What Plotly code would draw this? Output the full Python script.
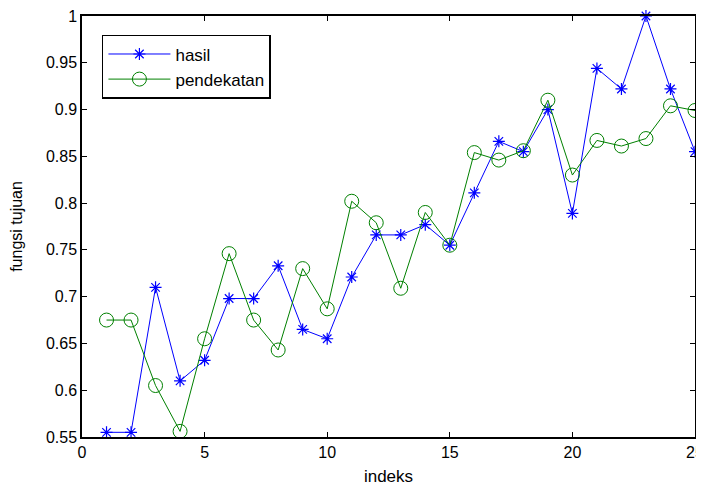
import plotly.graph_objects as go

indeks = list(range(1, 26))
hasil = [0.555, 0.555, 0.710, 0.610, 0.632, 0.698, 0.698, 0.733, 0.665, 0.655,
         0.721, 0.766, 0.766, 0.777, 0.755, 0.811, 0.866, 0.855, 0.900, 0.789,
         0.944, 0.922, 1.000, 0.922, 0.855]
pendekatan = [0.675, 0.675, 0.605, 0.556, 0.655, 0.746, 0.675, 0.643, 0.730, 0.687,
              0.802, 0.779, 0.709, 0.790, 0.755, 0.854, 0.846, 0.856, 0.910, 0.830,
              0.867, 0.861, 0.869, 0.904, 0.899]

x_ticks = [0, 5, 10, 15, 20, 25]
y_ticks = [0.55, 0.6, 0.65, 0.7, 0.75, 0.8, 0.85, 0.9, 0.95, 1]
y_labels = ["0.55", "0.6", "0.65", "0.7", "0.75", "0.8", "0.85", "0.9", "0.95", "1"]

FONT = "Liberation Sans, Arial"

fig = go.Figure()
fig.add_trace(go.Scatter(
    x=indeks, y=hasil, name="hasil", mode="lines+markers",
    line=dict(color="rgb(0,0,255)", width=1),
    marker=dict(symbol="asterisk-open", size=10, color="rgb(0,0,255)",
                line=dict(color="rgb(0,0,255)", width=1.2)),
    cliponaxis=False,
))
fig.add_trace(go.Scatter(
    x=indeks, y=pendekatan, name="pendekatan", mode="lines+markers",
    line=dict(color="rgb(0,128,0)", width=1),
    marker=dict(symbol="circle-open", size=14, color="rgb(0,128,0)",
                line=dict(color="rgb(0,128,0)", width=1)),
    cliponaxis=False,
))

axis_common = dict(
    showline=True, linecolor="black", linewidth=1.5, mirror="ticks",
    ticks="inside", ticklen=5, tickcolor="black", tickwidth=1,
    showgrid=False, zeroline=False, automargin=False,
    ticklabeloverflow="allow",
    tickfont=dict(family=FONT, size=16, color="black"),
)

# page body has an 8px margin: figure is drawn at (8,8) inside the 704x486 window
fig.update_layout(
    width=696, height=478,
    margin=dict(l=74, r=9, t=8, b=49),
    paper_bgcolor="white", plot_bgcolor="white",
    font=dict(family=FONT, size=16, color="black"),
    xaxis=dict(range=[0, 25], tickvals=x_ticks,
               title=dict(text="indeks", standoff=10, font=dict(family=FONT, size=17)),
               **axis_common),
    yaxis=dict(range=[0.55, 1], tickvals=y_ticks, ticktext=y_labels,
               title=dict(text="fungsi tujuan", standoff=20, font=dict(family=FONT, size=16)),
               **axis_common),
    legend=dict(x=0.0325, y=0.955, xanchor="left", yanchor="top",
                bordercolor="black", borderwidth=1.5, bgcolor="white",
                font=dict(family=FONT, size=17),
                itemwidth=62, tracegroupgap=0),
    showlegend=True,
)

fig.write_html("out.html")
